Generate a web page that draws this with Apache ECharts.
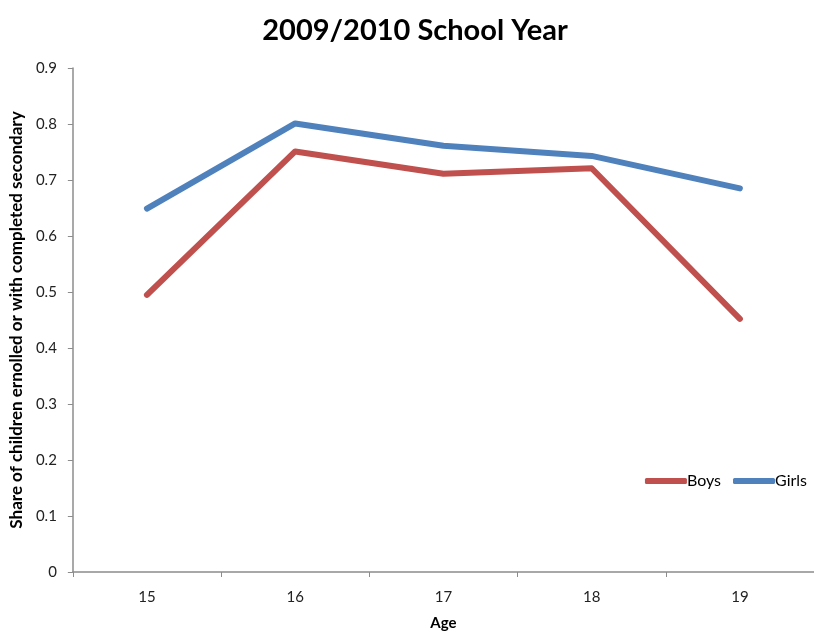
<!DOCTYPE html>
<html>
<head>
<meta charset="utf-8">
<script src="https://cdn.jsdelivr.net/npm/echarts@6/dist/echarts.min.js"></script>
<style>
  html, body { margin: 0; padding: 0; background: #fff; }
  #chart { width: 814px; height: 636px; }
</style>
</head>
<body>
<div id="chart"></div>
<script>
// Share of children enrolled or with completed secondary, by age
const ages = ['15', '16', '17', '18', '19'];
const boys = [0.495, 0.751, 0.711, 0.721, 0.452];
const girls = [0.649, 0.801, 0.761, 0.743, 0.685];
const yTicks = { min: 0, max: 0.9, interval: 0.1 };

const FONT = 'Lato, "Open Sans", sans-serif';
const chart = echarts.init(document.getElementById('chart'), null, { renderer: 'canvas' });

chart.setOption({
  backgroundColor: '#ffffff',
  animation: false,
  title: {
    text: '2009/2010 School Year',
    left: 410,
    textAlign: 'center',
    top: 11,
    textStyle: { fontFamily: FONT, fontSize: 29, fontWeight: 'bold', color: '#000' }
  },
  legend: {
    data: ['Boys', 'Girls'],
    right: 2,
    top: 468,
    itemWidth: 42,
    itemHeight: 6,
    itemGap: 12,
    icon: 'roundRect',
    textStyle: { fontFamily: FONT, fontSize: 16, color: '#000', padding: [0, 0, 0, -5] }
  },
  grid: { left: 72, top: 68, width: 750, height: 510, containLabel: false },
  xAxis: {
    type: 'category',
    data: ages,
    boundaryGap: true,
    name: 'Age',
    nameLocation: 'middle',
    nameGap: 44,
    nameTextStyle: { fontFamily: FONT, fontSize: 15, fontWeight: 'bold', color: '#000' },
    axisLine: { lineStyle: { color: '#8c8c8c', width: 1.5 } },
    axisTick: { show: true, length: 5, inside: false, lineStyle: { color: '#8c8c8c' } },
    axisLabel: { fontFamily: FONT, fontSize: 15, color: '#222', margin: 18 },
    splitLine: { show: false }
  },
  yAxis: {
    type: 'value',
    min: yTicks.min,
    max: yTicks.max,
    interval: yTicks.interval,
    name: 'Share of children ernolled or with completed secondary',
    nameLocation: 'middle',
    nameGap: 46,
    nameTextStyle: { fontFamily: FONT, fontSize: 17, fontWeight: 'bold', color: '#000' },
    axisLine: { show: true, lineStyle: { color: '#8c8c8c', width: 1.5 } },
    axisTick: { show: true, length: 5, lineStyle: { color: '#8c8c8c' } },
    axisLabel: {
      fontFamily: FONT, fontSize: 15, color: '#222', margin: 16,
      formatter: v => (Math.round(v * 10) / 10).toString()
    },
    splitLine: { show: false }
  },
  series: [
    {
      name: 'Boys',
      type: 'line',
      data: boys,
      color: '#C0504D',
      symbol: 'none',
      lineStyle: { width: 6, color: '#C0504D', cap: 'round', join: 'round' }
    },
    {
      name: 'Girls',
      type: 'line',
      data: girls,
      color: '#4F81BD',
      symbol: 'none',
      lineStyle: { width: 6, color: '#4F81BD', cap: 'round', join: 'round' }
    }
  ]
});
</script>
</body>
</html>
